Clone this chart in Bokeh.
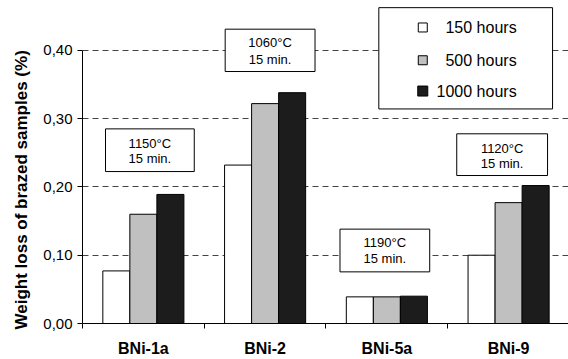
import numpy as np
from bokeh.plotting import figure
from bokeh.models import Range1d, FixedTicker, CustomJSTickFormatter, ColumnDataSource, Title
from bokeh.core.properties import value
from bokeh.embed import file_html
from bokeh.resources import INLINE

# ---- data ----
alloys = ["BNi-1a", "BNi-2", "BNi-5a", "BNi-9"]
series = ["150 hours", "500 hours", "1000 hours"]
loss_150 = [0.077, 0.232, 0.039, 0.100]
loss_500 = [0.160, 0.322, 0.039, 0.177]
loss_1000 = [0.189, 0.338, 0.040, 0.202]
y_ticks = [0.0, 0.1, 0.2, 0.3, 0.4]
y_title = "Weight loss of brazed samples (%)"

# annotations: brazing conditions
cond_labels = ["1150°C", "1060°C", "1190°C", "1120°C"]
cond_sub = ["15 min.", "15 min.", "15 min.", "15 min."]
# box layout (x in category units, y in value units)
box_left = [0.189, 1.172, 2.115, 3.074]
box_right = [0.918, 1.910, 2.852, 3.820]
box_top = [0.285, 0.431, 0.1382, 0.2778]
box_bottom = [0.2225, 0.369, 0.0756, 0.2167]
line1_y = [0.263, 0.411, 0.119, 0.257]
line2_y = [0.242, 0.387, 0.095, 0.235]

colors = ["#ffffff", "#c0c0c0", "#1c1c1c"]
FONT = "Liberation Sans"

p = figure(width=568, height=359, output_backend="svg", toolbar_location=None,
           x_range=Range1d(0, 3.992), y_range=Range1d(0, 0.473),
           min_border_left=81, min_border_right=0, min_border_top=0, min_border_bottom=35)
p.outline_line_color = None
p.background_fill_color = "white"
p.border_fill_color = "white"

# grid
p.xgrid.visible = False
p.ygrid.ticker = FixedTicker(ticks=y_ticks[1:])
p.ygrid.grid_line_color = "#444444"
p.ygrid.grid_line_dash = "6 4"
p.ygrid.grid_line_width = 1

# y axis
p.yaxis.ticker = FixedTicker(ticks=y_ticks)
p.yaxis.bounds = (0, 0.4)
p.yaxis.formatter = CustomJSTickFormatter(code="return tick.toFixed(2).replace('.', ',');")
p.yaxis.major_label_text_font = FONT
p.yaxis.major_label_text_font_size = "15px"
p.yaxis.major_label_text_color = "black"
p.yaxis.major_label_standoff = 5
p.yaxis.major_tick_out = 5
p.yaxis.major_tick_in = 0
p.yaxis.minor_tick_line_color = None
p.yaxis.axis_line_color = "black"
p.yaxis.major_tick_line_color = "black"

# y title (side title, starting near the bottom like the original)
p.add_layout(Title(text=y_title, align="left", offset=-6, standoff=19,
                   text_font=FONT, text_font_size="17px", text_font_style="bold",
                   text_color="black"), "left")

# x axis
centers = np.arange(len(alloys)) + 0.5
p.xaxis.ticker = FixedTicker(ticks=list(centers), minor_ticks=list(np.arange(len(alloys)).astype(float)))
p.xaxis.major_label_overrides = {float(c): a for c, a in zip(centers, alloys)}
p.xaxis.major_label_text_font = FONT
p.xaxis.major_label_text_font_style = "bold"
p.xaxis.major_label_text_font_size = "16px"
p.xaxis.major_label_text_color = "black"
p.xaxis.major_label_standoff = 11
p.xaxis.major_tick_out = 0
p.xaxis.major_tick_in = 0
p.xaxis.major_tick_line_color = None
p.xaxis.minor_tick_out = 5
p.xaxis.minor_tick_in = 0
p.xaxis.minor_tick_line_color = "black"
p.xaxis.axis_line_color = "black"

# bars
bw = 0.222
offsets = [-bw, 0.0, bw]
for vals, off, col in zip([loss_150, loss_500, loss_1000], offsets, colors):
    src = ColumnDataSource(dict(x=centers + off, top=vals))
    p.vbar(x="x", top="top", bottom=0, width=bw, source=src,
           fill_color=col, line_color="black", line_width=1)

# condition boxes
p.quad(left=box_left, right=box_right, top=box_top, bottom=box_bottom,
       fill_color="white", line_color="black", line_width=1)
bx = [(l + r) / 2 for l, r in zip(box_left, box_right)]
p.text(x=bx, y=line1_y, text=cond_labels, text_font=value(FONT), text_font_size="13px",
       text_align="center", text_baseline="middle", text_color="black")
p.text(x=bx, y=line2_y, text=cond_sub, text_font=value(FONT), text_font_size="13px",
       text_align="center", text_baseline="middle", text_color="black")

# legend box (manual, to match the original)
leg_left, leg_right, leg_top, leg_bottom = 2.434, 3.861, 0.4625, 0.3142
leg_rows = [0.4335, 0.3855, 0.3404]
p.quad(left=[leg_left], right=[leg_right], top=[leg_top], bottom=[leg_bottom],
       fill_color="white", line_color="black", line_width=1)
p.scatter(x=[2.795] * 3, y=leg_rows, marker="square", size=[9, 9, 10],
          fill_color=colors, line_color="black", line_width=1)
p.text(x=[3.566] * 3, y=leg_rows, text=series, text_font=value(FONT), text_font_size="16px",
       text_align="right", text_baseline="middle", text_color="black")

open("out.html", "w").write(file_html(p, INLINE))
